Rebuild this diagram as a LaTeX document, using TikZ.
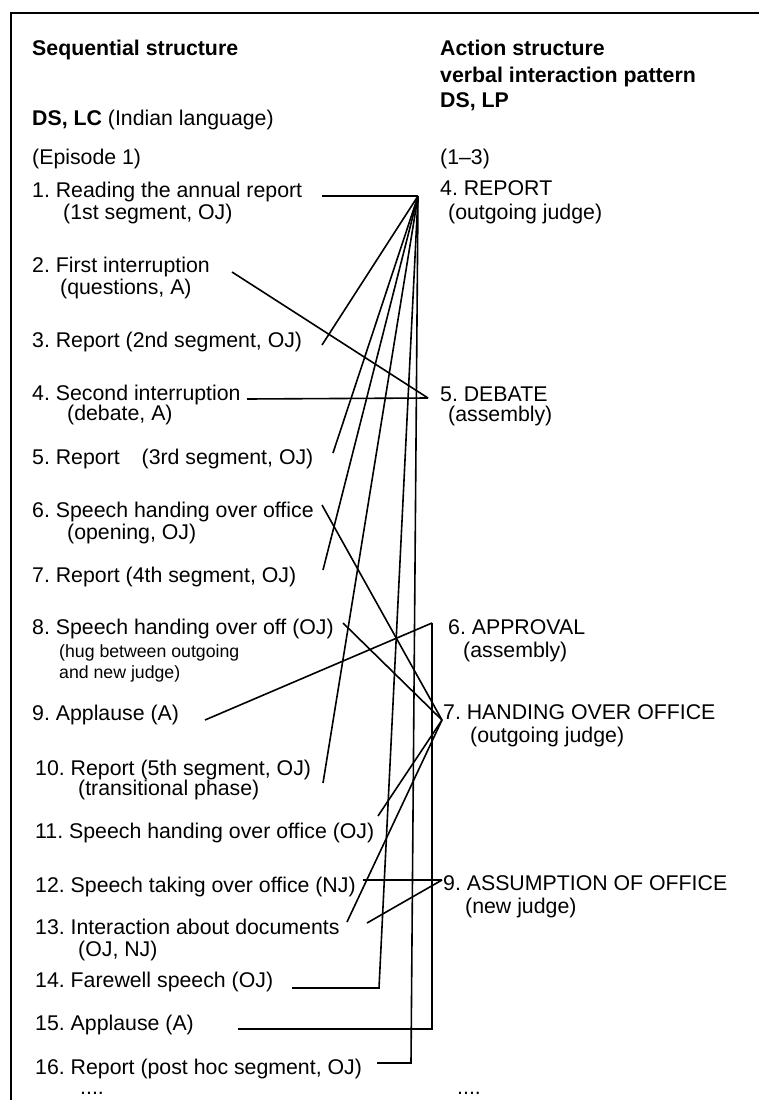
\documentclass[tikz,border=0pt]{standalone}
\usepackage{fontspec}
\setmainfont{Liberation Sans}
\frenchspacing
\begin{document}
\begin{tikzpicture}[x=1pt,y=-1pt,
  lbl/.style={anchor=base west, inner sep=0pt, font=\fontsize{21.3}{24}\selectfont},
  sml/.style={anchor=base west, inner sep=0pt, font=\fontsize{17.7}{20}\selectfont},
  hd/.style={anchor=base west, inner sep=0pt, font=\fontsize{21.3}{24}\selectfont\bfseries},
  conn/.style={line width=1.6pt, line join=miter},
  frameline/.style={line width=1.5pt}]
\useasboundingbox (0,0) rectangle (759,1100);
% frame
\coordinate (ftl) at (11,13);
\coordinate (ftr) at (759,13);
\coordinate (fbl) at (11,1100);
\draw[frameline] (ftr) -- (ftl) -- (fbl);

% headers
\node[hd] (hseq) at (32,55) {Sequential structure};
\node[hd] (hact) at (440,55) {Action structure};
\node[hd] (hverb) at (440,82) {verbal interaction pattern};
\node[hd] (hdslp) at (440,107) {DS, LP};
\node[lbl] (hdslc) at (32,125) {\textbf{DS, LC} (Indian language)};

% left column
\node[lbl] (ep) at (32,164) {(Episode 1)};
\node[lbl] (i1) at (32,197) {1. Reading the annual report};
\node[lbl] (i1b) at (63,219) {(1st segment, OJ)};
\node[lbl] (i2) at (32,272) {2. First interruption};
\node[lbl] (i2b) at (60,294) {(questions, A)};
\node[lbl] (i3) at (32,347) {3. Report (2nd segment, OJ)};
\node[lbl] (i4) at (32,400) {4. Second interruption};
\node[lbl] (i4b) at (67,420) {(debate, A)};
\node[lbl] (i5) at (32,464) {5. Report\hspace{0.75em} (3rd segment, OJ)};
\node[lbl] (i6) at (32,517) {6. Speech handing over office};
\node[lbl] (i6b) at (67,539) {(opening, OJ)};
\node[lbl] (i7) at (32,582) {7. Report (4th segment, OJ)};
\node[lbl] (i8) at (32,634) {8. Speech handing over off (OJ)};
\node[sml] (i8b) at (59,657) {(hug between outgoing};
\node[sml] (i8c) at (59,678) {and new judge)};
\node[lbl] (i9) at (32,720) {9. Applause (A)};
\node[lbl] (i10) at (35,775) {10. Report (5th segment, OJ)};
\node[lbl] (i10b) at (78,795) {(transitional phase)};
\node[lbl] (i11) at (35,838) {11. Speech handing over office (OJ)};
\node[lbl] (i12) at (35,892) {12. Speech taking over office (NJ)};
\node[lbl] (i13) at (35,934) {13. Interaction about documents};
\node[lbl] (i13b) at (78,956) {(OJ, NJ)};
\node[lbl] (i14) at (35,987) {14. Farewell speech (OJ)};
\node[lbl] (i15) at (35,1030) {15. Applause (A)};
\node[lbl] (i16) at (35,1074) {16. Report (post hoc segment, OJ)};
\node[lbl] (ldots) at (80,1094) {....};

% right column
\node[lbl] (r0) at (440,164) {(1--3)};
\node[lbl] (rR) at (440,195) {4. REPORT};
\node[lbl] (rRb) at (448,219) {(outgoing judge)};
\node[lbl] (rD) at (440,401) {5. DEBATE};
\node[lbl] (rDb) at (448,421) {(assembly)};
\node[lbl] (rA) at (448,634) {6. APPROVAL};
\node[lbl] (rAb) at (463,657) {(assembly)};
\node[lbl] (rH) at (443,719) {7. HANDING OVER OFFICE};
\node[lbl] (rHb) at (470,742) {(outgoing judge)};
\node[lbl] (rS) at (443,890) {9. ASSUMPTION OF OFFICE};
\node[lbl] (rSb) at (465,913) {(new judge)};
\node[lbl] (rdots) at (457,1094) {....};

% hubs
\coordinate (hubR) at (418,196);
\coordinate (hubD) at (428,398);
\coordinate (hubA) at (432,623);
\coordinate (hubH) at (442,720);
\coordinate (hubS) at (442,880);

% connector start points
\coordinate (s1) at (322,196);
\coordinate (s2) at (232,272);
\coordinate (s3) at (322,345);
\coordinate (s4) at (247,399);
\coordinate (s5) at (333,453);
\coordinate (s6) at (322,505);
\coordinate (s7) at (323,570);
\coordinate (s8) at (343,623);
\coordinate (s9) at (205,720);
\coordinate (s10) at (323,783);
\coordinate (s11) at (378,816);
\coordinate (s12) at (363,880);
\coordinate (s13a) at (347,922);
\coordinate (s13b) at (367,923);
\coordinate (s14) at (292,988);
\coordinate (c14) at (379,988);
\coordinate (s15) at (238,1029);
\coordinate (c15) at (432,1029);
\coordinate (s16) at (377,1063);
\coordinate (c16) at (411,1063);

% connectors
\draw[conn] (s1) -- (hubR);
\draw[conn] (s3) -- (hubR);
\draw[conn] (s5) -- (hubR);
\draw[conn] (s7) -- (hubR);
\draw[conn] (s10) -- (hubR);
\draw[conn] (s14) -- (c14) -- (hubR);
\draw[conn] (s16) -- (c16) -- (hubR);
\draw[conn] (s2) -- (hubD);
\draw[conn] (s4) -- (hubD);
\draw[conn] (s9) -- (hubA);
\draw[conn] (s15) -- (c15) -- (hubA);
\draw[conn] (s6) -- (hubH);
\draw[conn] (s8) -- (hubH);
\draw[conn] (s11) -- (hubH);
\draw[conn] (s13a) -- (hubH);
\draw[conn] (s12) -- (hubS);
\draw[conn] (s13b) -- (hubS);
\end{tikzpicture}
\end{document}
